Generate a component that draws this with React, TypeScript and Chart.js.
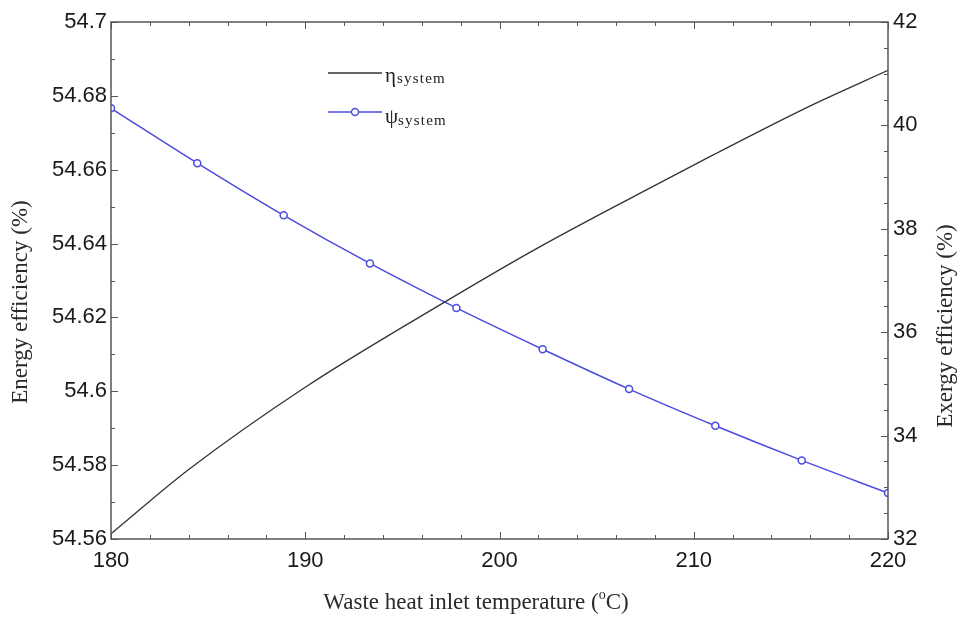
import React, { useEffect, useRef } from "react";
import { Chart, registerables } from "chart.js";

Chart.register(...registerables);

// ---- data ----
const ETA_T = [180, 184, 190, 197, 202, 207, 211, 216, 220];
const ETA_V = [54.5614, 54.5788, 54.6011, 54.6236, 54.6389, 54.653, 54.664, 54.6773, 54.6869];
const PSI_T = [180, 184.44, 188.89, 193.33, 197.78, 202.22, 206.67, 211.11, 215.56, 220];
const PSI_V = [40.33, 39.27, 38.26, 37.33, 36.47, 35.67, 34.9, 34.19, 33.52, 32.89];

const X_TICKS = [180, 190, 200, 210, 220];
const LEFT_TICKS = [54.56, 54.58, 54.6, 54.62, 54.64, 54.66, 54.68, 54.7];
const RIGHT_TICKS = [32, 34, 36, 38, 40, 42];

const X_TITLE = "Waste heat inlet temperature (";
const X_TITLE_SUP = "o";
const X_TITLE_END = "C)";
const LEFT_TITLE = "Energy efficiency (%)";
const RIGHT_TITLE = "Exergy efficiency (%)";
const LEG_ETA = "\u03B7";
const LEG_PSI = "\u03C8";
const LEG_SUB = "system";

const BLACK = "#333333";
const BLUE = "#4b4be0";
const AXIS = "#555555";
const SANS = "'Liberation Sans', Arial, sans-serif";
const SERIF = "'Liberation Serif', 'Times New Roman', serif";

const decor = {
  id: "decor",
  afterDraw(chart: any) {
    const { ctx, chartArea: a, scales } = chart;
    const x = scales.x, y = scales.y, y2 = scales.y2;
    ctx.save();
    ctx.strokeStyle = AXIS;
    ctx.lineWidth = 1.5;
    ctx.strokeRect(a.left, a.top, a.right - a.left, a.bottom - a.top);
    ctx.lineWidth = 1;
    const tick = (x1: number, y1: number, x2: number, y2_: number) => {
      ctx.beginPath();
      ctx.moveTo(x1, y1);
      ctx.lineTo(x2, y2_);
      ctx.stroke();
    };
    // x ticks bottom & top
    for (let i = 0; i <= 20; i++) {
      const v = 180 + i * 2;
      const px = Math.round(x.getPixelForValue(v)) + 0.5;
      const L = i % 5 === 0 ? 7 : 4;
      tick(px, a.bottom, px, a.bottom - L);
      tick(px, a.top, px, a.top + L);
    }
    // left ticks
    for (let i = 0; i <= 14; i++) {
      const v = 54.56 + i * 0.01;
      const py = Math.round(y.getPixelForValue(v)) + 0.5;
      const L = i % 2 === 0 ? 7 : 4;
      tick(a.left, py, a.left + L, py);
    }
    // right ticks
    for (let i = 0; i <= 20; i++) {
      const v = 32 + i * 0.5;
      const py = Math.round(y2.getPixelForValue(v)) + 0.5;
      const L = i % 4 === 0 ? 7 : 4;
      tick(a.right, py, a.right - L, py);
    }

    // axis titles
    ctx.fillStyle = "#2a2a2a";
    ctx.textBaseline = "middle";
    ctx.font = `23px ${SERIF}`;
    ctx.save();
    ctx.translate(21, 302);
    ctx.rotate(-Math.PI / 2);
    ctx.textAlign = "center";
    ctx.fillText(LEFT_TITLE, 0, 0);
    ctx.restore();
    ctx.save();
    ctx.translate(946, 326);
    ctx.rotate(-Math.PI / 2);
    ctx.textAlign = "center";
    ctx.fillText(RIGHT_TITLE, 0, 0);
    ctx.restore();

    // x title with superscript
    ctx.textAlign = "left";
    ctx.textBaseline = "alphabetic";
    ctx.font = `23px ${SERIF}`;
    const w1 = ctx.measureText(X_TITLE).width;
    ctx.font = `14px ${SERIF}`;
    const w2 = ctx.measureText(X_TITLE_SUP).width;
    ctx.font = `23px ${SERIF}`;
    const w3 = ctx.measureText(X_TITLE_END).width;
    const total = w1 + w2 + w3;
    const cx = 476;
    let tx = cx - total / 2;
    const base = 609;
    ctx.fillText(X_TITLE, tx, base);
    tx += w1;
    ctx.font = `14px ${SERIF}`;
    ctx.fillText(X_TITLE_SUP, tx, base - 10);
    tx += w2;
    ctx.font = `23px ${SERIF}`;
    ctx.fillText(X_TITLE_END, tx, base);

    // legend
    const lx0 = a.left + 217, lx1 = a.left + 271;
    const ly1 = a.top + 51, ly2 = a.top + 90;
    ctx.lineWidth = 1.3;
    ctx.strokeStyle = BLACK;
    tick(lx0, ly1, lx1, ly1);
    ctx.lineWidth = 1.5;
    ctx.strokeStyle = BLUE;
    tick(lx0, ly2, lx1, ly2);
    ctx.beginPath();
    ctx.fillStyle = "#fff";
    ctx.arc((lx0 + lx1) / 2, ly2, 3.5, 0, Math.PI * 2);
    ctx.fill();
    ctx.stroke();
    ctx.fillStyle = "#222";
    ctx.font = `21px ${SERIF}`;
    ctx.fillText(LEG_ETA, lx1 + 3, ly1 + 9);
    ctx.fillText(LEG_PSI, lx1 + 3, ly2 + 11);
    ctx.font = `15px ${SERIF}`;
    (ctx as any).letterSpacing = "1.2px";
    ctx.fillText(LEG_SUB, lx1 + 15, ly1 + 10);
    ctx.fillText(LEG_SUB, lx1 + 16, ly2 + 13);
    (ctx as any).letterSpacing = "0px";
    ctx.restore();
  },
};

export default function App() {
  const ref = useRef<HTMLCanvasElement | null>(null);
  useEffect(() => {
    if (!ref.current) return;
    const chart = new Chart(ref.current, {
      type: "line",
      data: {
        datasets: [
          {
            label: "eta",
            data: ETA_T.map((t, i) => ({ x: t, y: ETA_V[i] })),
            yAxisID: "y",
            borderColor: BLACK,
            borderWidth: 1.3,
            pointRadius: 0,
            cubicInterpolationMode: "monotone",
            fill: false,
          },
          {
            label: "psi",
            data: PSI_T.map((t, i) => ({ x: t, y: PSI_V[i] })),
            yAxisID: "y2",
            borderColor: BLUE,
            borderWidth: 1.5,
            pointRadius: 3.5,
            pointBorderWidth: 1.5,
            pointBackgroundColor: "#fff",
            pointBorderColor: BLUE,
            cubicInterpolationMode: "monotone",
            fill: false,
          },
        ],
      },
      options: {
        responsive: false,
        animation: false,
        layout: { padding: { top: 22, left: 0, right: 0, bottom: 0 } },
        plugins: { legend: { display: false }, tooltip: { enabled: false } },
        scales: {
          x: {
            type: "linear",
            min: 180,
            max: 220,
            afterBuildTicks: (s: any) => { s.ticks = X_TICKS.map((v) => ({ value: v })); },
            afterFit: (s: any) => { s.height = 78; },
            grid: { display: false, drawTicks: false },
            border: { display: false },
            ticks: { padding: 9, color: "#1a1a1a", font: { family: SANS, size: 22 }, maxRotation: 0, callback: (v: any) => String(v) },
          },
          y: {
            type: "linear",
            position: "left",
            min: 54.56,
            max: 54.7,
            afterBuildTicks: (s: any) => { s.ticks = LEFT_TICKS.map((v) => ({ value: v })); },
            afterFit: (s: any) => { s.width = 111; },
            grid: { display: false, drawTicks: false },
            border: { display: false },
            ticks: { padding: 4, color: "#1a1a1a", font: { family: SANS, size: 22 }, callback: (v: any) => String(+Number(v).toFixed(2)) },
          },
          y2: {
            type: "linear",
            position: "right",
            min: 32,
            max: 42,
            afterBuildTicks: (s: any) => { s.ticks = RIGHT_TICKS.map((v) => ({ value: v })); },
            afterFit: (s: any) => { s.width = 72; },
            grid: { display: false, drawTicks: false },
            border: { display: false },
            ticks: { padding: 5, color: "#1a1a1a", font: { family: SANS, size: 22 }, callback: (v: any) => String(v) },
          },
        },
      },
      plugins: [decor],
    } as any);
    return () => chart.destroy();
  }, []);
  return (
    <div style={{ position: "absolute", left: 0, top: 0, width: 960, height: 617, background: "#fff" }}>
      <canvas ref={ref} width={960} height={617} style={{ display: "block" }} />
    </div>
  );
}
